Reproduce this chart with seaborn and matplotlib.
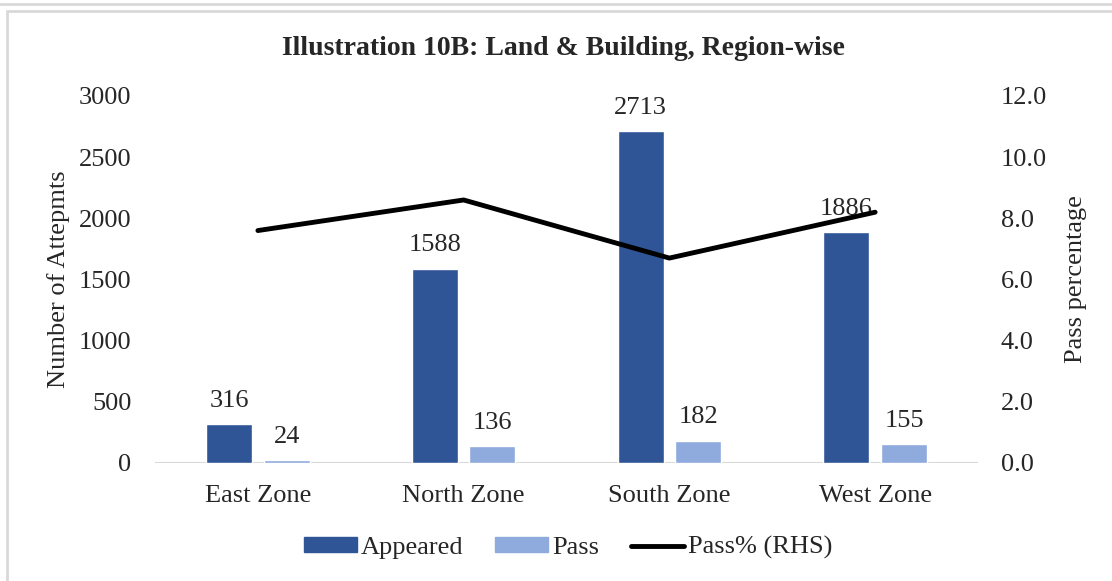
import matplotlib
matplotlib.use("Agg")
import matplotlib.pyplot as plt
import seaborn as sns
import pandas as pd
import numpy as np
from matplotlib.patches import Patch
from matplotlib.lines import Line2D

# data
zones = ["East Zone", "North Zone", "South Zone", "West Zone"]
appeared = [316, 1588, 2713, 1886]
passed = [24, 136, 182, 155]
pass_pct = [7.6, 8.6, 6.7, 8.2]

dark_blue = "#2F5597"
light_blue = "#8FAADC"
fs = 19

sns.set_theme(style="white")
plt.rcParams["font.family"] = ["Liberation Serif", "DejaVu Serif"]

df = pd.DataFrame({
    "Zone": zones * 2,
    "Count": appeared + passed,
    "Series": ["Appeared"] * len(zones) + ["Pass"] * len(zones),
})

fig = plt.figure(figsize=(11.12, 5.81), dpi=100)
ax = fig.add_axes([0.1394, 0.2031, 0.7401, 0.6317])

sns.barplot(data=df, x="Zone", y="Count", hue="Series",
            palette=[dark_blue, light_blue], width=0.56, gap=0.2,
            saturation=1, ax=ax, legend=False)

for cont in ax.containers:
    ax.bar_label(cont, padding=9, fontsize=fs)

ax.set_xlim(-0.5, len(zones) - 0.5)
ax.set_ylim(0, 3000)
ax.set_yticks(range(0, 3001, 500))
ax.set_xlabel("")
ax.set_ylabel("Number of Attepmts", fontsize=fs, labelpad=6)
ax.tick_params(axis="both", labelsize=fs, length=0)
ax.tick_params(axis="x", pad=16)
ax.tick_params(axis="y", pad=17)
for s in ax.spines.values():
    s.set_visible(False)
ax.axhline(0, color="#d9d9d9", lw=1.5, zorder=0)

ax2 = ax.twinx()
sns.lineplot(x=np.arange(len(zones)), y=pass_pct, color="black", lw=3.5,
             ax=ax2, legend=False)
ax2.set_ylim(0, 12)
ax2.set_yticks(np.arange(0, 12.1, 2))
ax2.set_yticklabels([f"{v:.1f}" for v in np.arange(0, 12.1, 2)])
ax2.set_ylabel("Pass percentage", fontsize=fs, labelpad=13)
ax2.tick_params(axis="y", labelsize=fs, length=0, pad=16.5)
for s in ax2.spines.values():
    s.set_visible(False)

fig.text(0.507, 0.917, "Illustration 10B: Land & Building, Region-wise",
         ha="center", va="center", fontsize=20, fontweight="bold")

handles = [
    Patch(color=dark_blue, label="Appeared"),
    Patch(color=light_blue, label="Pass"),
    Line2D([0], [0], color="black", lw=3.5, label="Pass% (RHS)"),
]
fig.legend(handles=handles, loc="center", bbox_to_anchor=(0.511, 0.057),
           ncol=3, frameon=False, fontsize=fs, handlelength=2.0,
           handleheight=0.5, handletextpad=0.15, columnspacing=1.2)

# grey frame lines of the source screenshot
grey = "#d9d9d9"
fig.add_artist(Line2D([0, 1], [1 - 4 / 581, 1 - 4 / 581], transform=fig.transFigure, color=grey, lw=2))
fig.add_artist(Line2D([7 / 1112, 1], [1 - 11 / 581, 1 - 11 / 581], transform=fig.transFigure, color=grey, lw=2))
fig.add_artist(Line2D([7 / 1112, 7 / 1112], [0, 1 - 11 / 581], transform=fig.transFigure, color=grey, lw=2))

fig.savefig("out.png", dpi=100)
